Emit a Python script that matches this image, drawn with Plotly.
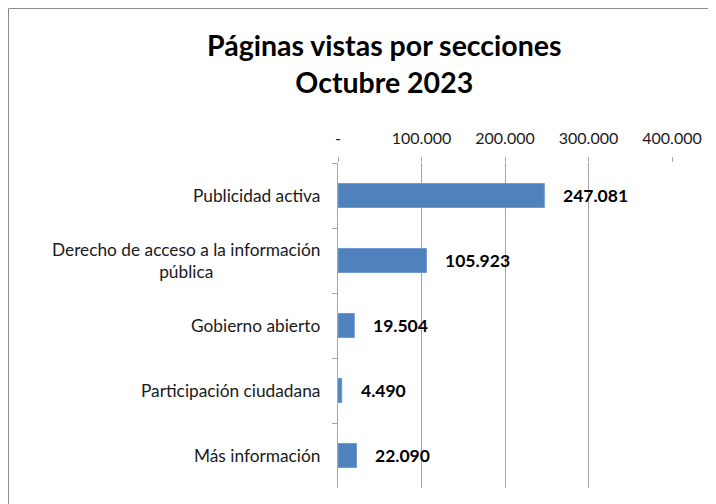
import plotly.graph_objects as go

categories = [
    "Publicidad activa",
    "Derecho de acceso a la información<br>pública",
    "Gobierno abierto",
    "Participación ciudadana",
    "Más información",
]
values = [247081, 105923, 19504, 4490, 22090]
tick_values = [0, 100000, 200000, 300000, 400000]
tick_labels = ["-", "100.000", "200.000", "300.000", "400.000"]

FONT = "Lato"
BAR_COLOR = "#4F81BD"

# the page body adds an 8px offset, so the figure is 8px smaller than the window
W, H = 708, 496
PLOT_L, PLOT_R, PLOT_T, PLOT_B = 330, 664, 155, 480


def fmt(v):
    return f"{v:,}".replace(",", ".")


fig = go.Figure(
    data=[
        go.Bar(
            x=values,
            y=categories,
            orientation="h",
            width=0.37,
            marker={"color": BAR_COLOR, "line": {"color": "#6F9AD0", "width": 1}},
            hoverinfo="skip",
        )
    ]
)

pw = PLOT_R - PLOT_L
ph = PLOT_B - PLOT_T

annotations = []
for cat, v in zip(categories, values):
    # value label to the right of the bar
    annotations.append({
        "x": v, "y": cat, "xref": "x", "yref": "y",
        "text": "<b>%s</b>" % fmt(v),
        "showarrow": False, "xanchor": "left", "xshift": 17,
        "font": {"family": FONT, "size": 17.5, "color": "black"},
    })
    # category label, centered multi-line
    annotations.append({
        "x": 0, "y": cat, "xref": "paper", "yref": "y",
        "text": cat,
        "showarrow": False, "xanchor": "right", "xshift": -16,
        "align": "center",
        "font": {"family": FONT, "size": 17.3, "color": "#1a1a1a"},
    })

annotations.append({
    "x": (376 - PLOT_L) / pw, "y": 1, "xref": "paper", "yref": "paper",
    "yshift": PLOT_T - 55, "yanchor": "middle", "xanchor": "center",
    "text": "<b>Páginas vistas por secciones<br>Octubre 2023</b>",
    "showarrow": False, "align": "center",
    "font": {"family": FONT, "size": 28.5, "color": "black"},
})

fig.update_layout(
    width=W,
    height=H,
    margin={"l": PLOT_L, "r": W - PLOT_R, "t": PLOT_T, "b": H - PLOT_B, "pad": 0},
    plot_bgcolor="white",
    paper_bgcolor="white",
    showlegend=False,
    font={"family": FONT, "size": 16, "color": "#222222"},
    annotations=annotations,
    xaxis={
        "side": "top",
        "range": [0, 400000],
        "tickvals": tick_values,
        "ticktext": tick_labels,
        "showgrid": True,
        "gridcolor": "#A6A6A6",
        "gridwidth": 1,
        "zeroline": False,
        "showline": False,
        "ticks": "outside",
        "ticklen": 5,
        "tickcolor": "#A6A6A6",
        "ticklabelstandoff": 7,
        "tickfont": {"family": FONT, "size": 16, "color": "#1a1a1a"},
        "fixedrange": True,
    },
    yaxis={
        "autorange": "reversed",
        "showticklabels": False,
        "ticks": "outside",
        "tickson": "boundaries",
        "ticklen": 5,
        "tickcolor": "#A6A6A6",
        "showline": True,
        "linecolor": "#A6A6A6",
        "linewidth": 1,
        "showgrid": False,
        "fixedrange": True,
    },
    shapes=[
        {
            "type": "rect", "xref": "paper", "yref": "paper",
            "x0": (0.5 - PLOT_L) / pw, "x1": (730 - PLOT_L) / pw,
            "y0": (PLOT_B - 520) / ph, "y1": (PLOT_B - 0.5) / ph,
            "line": {"color": "#8C8C8C", "width": 1},
        }
    ],
)

fig.write_html("out.html")
